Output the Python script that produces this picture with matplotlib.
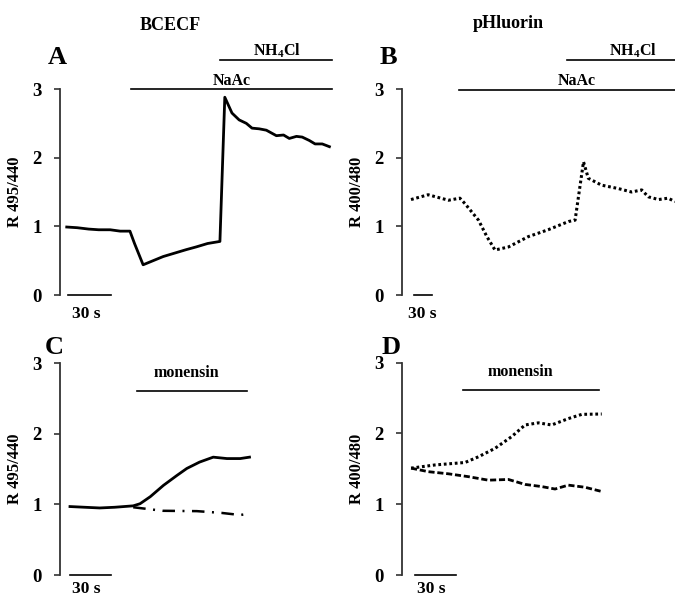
import numpy as np
import matplotlib
matplotlib.use("Agg")
import matplotlib.pyplot as plt

plt.rcParams['font.family'] = 'Liberation Serif'
plt.rcParams['font.weight'] = 'bold'
plt.rcParams['axes.labelweight'] = 'bold'
plt.rcParams['mathtext.fontset'] = 'custom'
plt.rcParams['mathtext.rm'] = 'Liberation Serif:bold'
plt.rcParams['mathtext.default'] = 'rm'

# time in seconds, ratio values
a_t = [4.7, 12, 20, 27, 35, 42, 48.8, 52, 58, 65, 72, 80, 88, 95, 103, 111.6,
       115, 120, 125, 130, 134, 139, 144, 151, 156, 160, 165, 169, 174, 178, 183, 188]
a_r = [0.99, 0.98, 0.96, 0.95, 0.95, 0.93, 0.93, 0.75, 0.44, 0.50, 0.56, 0.61, 0.66, 0.70, 0.75, 0.78,
       2.88, 2.65, 2.55, 2.50, 2.43, 2.42, 2.40, 2.32, 2.33, 2.28, 2.31, 2.30, 2.25, 2.20, 2.20, 2.16]

b_t = [15.5, 44, 78, 97, 105.5, 128, 142, 155.5, 178, 211, 244, 278, 289, 303, 311, 333, 361, 383, 400, 411, 428, 444, 455.5]
b_r = [1.39, 1.46, 1.38, 1.41, 1.33, 1.09, 0.85, 0.655, 0.70, 0.85, 0.95, 1.07, 1.09, 1.94, 1.70, 1.60, 1.55, 1.50, 1.53, 1.43, 1.39, 1.41, 1.36]

c_t = [7.3, 18, 29, 40, 53.5, 58.5, 66, 75.6, 85.4, 92.7, 102, 112, 122, 131.7, 138.5]
c_r1 = [0.97, 0.96, 0.95, 0.96, 0.98, 1.01, 1.11, 1.27, 1.41, 1.51, 1.60, 1.67, 1.65, 1.65, 1.67]
c_t2 = [53.5, 75, 100, 118, 131.7, 138.5]
c_r2 = [0.96, 0.91, 0.905, 0.88, 0.85, 0.87]

d_t1 = [6.9, 24.5, 46.7, 56.5, 68.8, 81, 90.9, 100.7, 110.5, 122.8, 132.7, 147.4]
d_r1 = [1.51, 1.555, 1.59, 1.67, 1.79, 1.955, 2.12, 2.15, 2.12, 2.21, 2.27, 2.275]
d_t2 = [6.9, 19.6, 34.4, 49, 63.8, 78.6, 90.9, 103, 113, 122.8, 135, 147.4]
d_r2 = [1.51, 1.46, 1.43, 1.39, 1.34, 1.35, 1.28, 1.25, 1.215, 1.27, 1.24, 1.18]

W, H = 675, 598
fig = plt.figure(figsize=(W / 100, H / 100), dpi=100)


def make_ax(x0, y0, x1, y1, xmax, ylabel):
    ax = fig.add_axes([x0 / W, 1 - y1 / H, (x1 - x0) / W, (y1 - y0) / H])
    ax.set_xlim(0, xmax)
    ax.set_ylim(0, 3)
    for s in ['top', 'right', 'bottom']:
        ax.spines[s].set_visible(False)
    ax.spines['left'].set_linewidth(1.3)
    ax.spines['left'].set_color('#333333')
    ax.set_xticks([])
    ax.set_yticks([0, 1, 2, 3])
    ax.tick_params(axis='y', length=4, width=1.2, pad=9, labelsize=13.5, color='#333333')
    ax.set_ylabel(ylabel, fontsize=12, labelpad=7)
    return ax


def scale_bar(ax, x0, x1, xt, yt, va='center'):
    ax.plot([x0, x1], [0, 0], color='black', lw=1.2, clip_on=False)
    ax.text(xt, yt, '30 s', fontsize=12.5, ha='left', va=va, clip_on=False)


def bar(ax, x0, x1, y, label, xl, yl, fs=11.5):
    ax.plot([x0, x1], [y, y], color='black', lw=1.2, clip_on=False)
    ax.text(xl, yl, label, fontsize=fs, ha='center', va='center', clip_on=False)


# A
axA = make_ax(60, 89, 335, 295, 191.9, 'R 495/440')
axA.plot(a_t, a_r, color='black', lw=2.0, clip_on=False)
bar(axA, 49.5, 189.8, 3.0, 'NaAc', 120, 3.12)
bar(axA, 111.6, 189.8, 3.42, r'NH$_{4}$Cl', 151.4, 3.55)
scale_bar(axA, 5.6, 35.6, 8.4, -0.28)

# B
axB = make_ax(401.7, 89, 675, 295, 455.5, 'R 400/480')
axB.plot(b_t, b_r, color='black', lw=2.2, linestyle=(0, (0.9, 0.9)), clip_on=False)
bar(axB, 95.5, 460, 2.99, 'NaAc', 292, 3.12)
bar(axB, 275.5, 460, 3.42, r'NH$_{4}$Cl', 385.5, 3.55)
scale_bar(axB, 20.5, 50.5, 10.5, -0.28)

# C
axC = make_ax(60, 363.3, 335, 575, 201, 'R 495/440')
axC.plot(c_t, c_r1, color='black', lw=2.0, clip_on=False)
axC.plot(c_t2, c_r2, color='black', lw=1.8, linestyle=(0, (5, 3, 0.8, 3)), clip_on=False)
bar(axC, 56, 137, 2.61, 'monensin', 92.2, 2.86, fs=11.5)
scale_bar(axC, 7.3, 37.3, 8.5, -0.31, va='bottom')

# D
axD = make_ax(401.7, 362.7, 675, 575, 201.4, 'R 400/480')
axD.plot(d_t1, d_r1, color='black', lw=2.2, linestyle=(0, (0.9, 0.9)), clip_on=False)
axD.plot(d_t2, d_r2, color='black', lw=2.0, linestyle=(0, (2.2, 1.0)), clip_on=False)
bar(axD, 45, 145.4, 2.61, 'monensin', 87.2, 2.87, fs=11.5)
scale_bar(axD, 9.8, 39.8, 11, -0.31, va='bottom')

# panel letters and titles
for x, y, s in [(57, 57, 'A'), (388, 57, 'B'), (54, 347, 'C'), (391, 347, 'D')]:
    fig.text(x / W, 1 - y / H, s, fontsize=19, ha='center', va='center')
fig.text(170 / W, 1 - 25 / H, 'BCECF', fontsize=13, ha='center', va='center')
fig.text(508 / W, 1 - 24 / H, 'pHluorin', fontsize=13, ha='center', va='center')

fig.savefig('out.png', dpi=100)
